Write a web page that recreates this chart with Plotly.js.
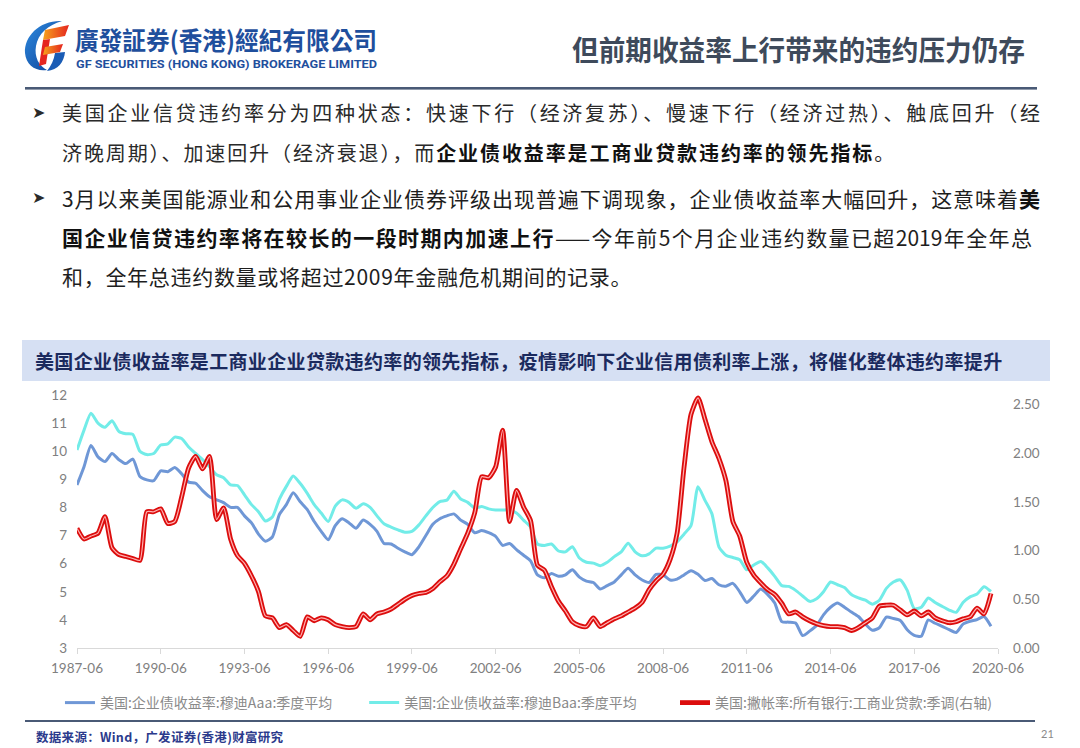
<!DOCTYPE html>
<html>
<head>
<meta charset="utf-8">
<script src="https://cdn.plot.ly/plotly-3.0.1.min.js"></script>
<style>
  html, body { margin:0; padding:0; background:#fff; }
  #page { position:relative; width:1080px; height:748px; overflow:hidden; background:#fff;
          font-family:"Noto Sans CJK SC", "Noto Sans", sans-serif; }
  .abs { position:absolute; white-space:nowrap; }
  .bul { position:absolute; left:32px; font-family:"DejaVu Sans"; font-size:16px; color:#2a2a2a; line-height:22px; }
  .p1 { font-size:20px; color:#2a2a2a; letter-spacing:1.9px; height:30px; line-height:30px; }
  .p2 { font-size:21px; color:#1e1e1e; letter-spacing:0.7px; height:30px; line-height:30px; }
  .just { width:978px; text-align:justify; text-align-last:justify; letter-spacing:0; }
  b { font-weight:700; color:#111; }
  #chartTitle { position:absolute; left:22px; top:340px; width:1028px; height:41px; background:#d6e0f3; }
  #chartTitle span { position:absolute; left:13px; top:0; line-height:41px; font-size:19px; font-weight:700; color:#1b2a5e; white-space:nowrap; letter-spacing:0.35px; }
  #plot { position:absolute; left:0; top:0; width:1080px; height:748px; }
</style>
</head>
<body>
<div id="page">
  <svg class="abs" style="left:0;top:0" width="1080" height="95">
    <defs>
      <linearGradient id="gb" x1="0" y1="0" x2="1" y2="1">
        <stop offset="0" stop-color="#2d8be0"/><stop offset="1" stop-color="#0d3f95"/>
      </linearGradient>
      <linearGradient id="gr" x1="0" y1="0" x2="1" y2="0">
        <stop offset="0" stop-color="#f6a21c"/><stop offset="1" stop-color="#e5261f"/>
      </linearGradient>
    </defs>
    <path d="M62,21 C40,20 24,36 25,53 C26,65 36,72 47,70 C39,66 34,57 36,46 C38,34 48,25 62,21 Z" fill="url(#gb)"/>
    <path d="M47,71 C58,70 64,62 65,52 L55,53 C54,60 51,66 47,71 Z" fill="#1a5cb5"/>
    <path d="M45,30 L69,25 L65,36 L43,40 Z" fill="url(#gr)"/>
    <path d="M43,40 L50,39 L46,64 L39,66 Z" fill="#e5261f"/>
    <path d="M45,47 L63,44 L60,52 L43,55 Z" fill="url(#gr)"/>
    <text x="75" y="50" font-family="Noto Sans CJK TC" font-weight="700" font-size="25" fill="#1f4f9d"
          textLength="302" lengthAdjust="spacingAndGlyphs">廣發証券(香港)經紀有限公司</text>
    <text x="76" y="68" font-family="Roboto" font-weight="700" font-size="11" fill="#1f4f9d"
          textLength="301" lengthAdjust="spacingAndGlyphs">GF SECURITIES (HONG KONG) BROKERAGE LIMITED</text>
    <text x="572" y="61" font-family="Noto Sans CJK SC" font-weight="700" font-size="28" fill="#3e4a5b"
          textLength="453" lengthAdjust="spacingAndGlyphs">但前期收益率上行带来的违约压力仍存</text>
    <rect x="25" y="87" width="1012" height="2.6" fill="#4a5a76"/>
  </svg>

  <div class="bul" style="top:102px">➤</div>
  <div class="abs p1 just" style="left:62px;top:98px">美国企业信贷违约率分为四种状态：快速下行（经济复苏）、慢速下行（经济过热）、触底回升（经</div>
  <div class="abs p1" style="left:62px;top:138px">济晚周期）、加速回升（经济衰退），而<b>企业债收益率是工商业贷款违约率的领先指标</b>。</div>

  <div class="bul" style="top:187px">➤</div>
  <div class="abs p2 just" style="left:62px;top:183px">3月以来美国能源业和公用事业企业债券评级出现普遍下调现象，企业债收益率大幅回升，这意味着<b>美</b></div>
  <div class="abs p2 just" style="left:62px;top:222px;width:970px"><b>国企业信贷违约率将在较长的一段时期内加速上行</b>——今年前5个月企业违约数量已超2019年全年总</div>
  <div class="abs p2" style="left:62px;top:261px">和，全年总违约数量或将超过2009年金融危机期间的记录。</div>

  <div id="chartTitle"><span>美国企业债收益率是工商业企业贷款违约率的领先指标，疫情影响下企业信用债利率上涨，将催化整体违约率提升</span></div>

  <div id="plot"></div>

  <div class="abs" style="left:25px;top:720px;width:1010px;height:2px;background:#4a5a76"></div>
  <div class="abs" style="left:36px;top:727px;font-size:12.5px;color:#2b3a8c;font-weight:700;letter-spacing:0.3px">数据来源：Wind，广发证券(香港)财富研究</div>
  <div class="abs" style="left:1041px;top:727px;font-size:11px;color:#8a8a8a;font-family:'Lato'">21</div>
</div>

<script>
// Quarterly observation dates (1987-06 .. 2020-03)
const quarters = [];
for (let i = 0; i < 132; i++) {
  const m = 6 + 3 * i;
  const y = 1987 + Math.floor((m - 1) / 12);
  const mm = ((m - 1) % 12) + 1;
  quarters.push(y + '-' + String(mm).padStart(2, '0') + '-01');
}

// 美国:企业债收益率:穆迪Aaa:季度平均 (%)
const aaa = [
  8.80, 9.45, 10.20, 9.80, 9.63, 9.92, 9.70, 9.56,
  9.72, 9.10, 8.98, 8.95, 9.30, 9.27, 9.42, 9.20,
  8.90, 8.86, 8.60, 8.38, 8.27, 8.17, 8.00, 8.00,
  7.70, 7.45, 7.05, 6.80, 6.95, 7.75, 8.10, 8.52,
  8.20, 7.92, 7.50, 7.15, 6.85, 7.35, 7.60, 7.45,
  7.26, 7.55, 7.40, 7.15, 6.72, 6.70, 6.55, 6.42,
  6.32, 6.60, 7.00, 7.40, 7.60, 7.70, 7.77, 7.55,
  7.40, 7.10, 7.18, 7.10, 6.97, 6.65, 6.72, 6.50,
  6.30, 6.10, 5.60, 5.50, 5.65, 5.55, 5.60, 5.78,
  5.52, 5.38, 5.33, 5.10, 5.22, 5.35, 5.60, 5.84,
  5.60, 5.42, 5.33, 5.62, 5.60, 5.42, 5.45, 5.60,
  5.75, 5.62, 5.40, 5.47, 5.25, 5.20, 5.30, 5.00,
  4.62, 4.85, 5.10, 4.90, 4.60, 3.94, 3.92, 3.89,
  3.44, 3.60, 3.80, 4.18, 4.45, 4.60, 4.45, 4.28,
  4.12, 3.85, 3.63, 3.72, 4.10, 4.05, 3.98, 3.65,
  3.45, 3.42, 4.00, 3.88, 3.77, 3.65, 3.55, 3.85,
  3.95, 4.01, 4.12, 3.77
];

// 美国:企业债收益率:穆迪Baa:季度平均 (%)
const baa = [
  10.04, 10.75, 11.35, 11.00, 10.85, 11.08, 10.70, 10.62,
  10.60, 10.00, 9.88, 9.92, 10.22, 10.26, 10.50, 10.45,
  10.15, 9.92, 9.70, 9.45, 9.16, 9.06, 8.80, 8.78,
  8.45, 8.10, 7.85, 7.52, 7.66, 8.30, 8.75, 9.12,
  8.85, 8.50, 8.10, 7.80, 7.50, 8.05, 8.27, 8.18,
  7.97, 8.13, 8.00, 7.70, 7.42, 7.30, 7.20, 7.12,
  7.15, 7.38, 7.70, 8.00, 8.21, 8.26, 8.58, 8.30,
  8.18, 7.98, 8.03, 7.95, 7.91, 7.91, 7.91, 7.80,
  7.55, 7.30, 6.70, 6.65, 6.70, 6.45, 6.42, 6.60,
  6.20, 6.05, 6.02, 5.93, 6.05, 6.25, 6.42, 6.73,
  6.42, 6.28, 6.35, 6.55, 6.55, 6.62, 6.78, 7.05,
  7.35, 8.74, 8.25, 7.78, 6.60, 6.30, 6.22, 6.14,
  5.78, 5.95, 6.08, 5.85, 5.55, 5.22, 5.19, 5.05,
  4.85, 4.66, 4.75, 5.00, 5.35, 5.25, 5.15, 4.90,
  4.78, 4.70, 4.56, 4.70, 5.12, 5.35, 5.42, 5.05,
  4.40, 4.45, 4.78, 4.62, 4.48, 4.35, 4.27, 4.62,
  4.82, 4.92, 5.18, 5.01
];

// 美国:撇帐率:所有银行:工商业贷款:季调 (%, 右轴)
const chargeOff = [
  1.23, 1.12, 1.15, 1.18, 1.35, 1.03, 0.96, 0.94,
  0.92, 0.90, 1.40, 1.40, 1.43, 1.28, 1.30, 1.55,
  1.85, 1.97, 1.84, 1.97, 1.32, 1.44, 1.12, 0.95,
  0.87, 0.74, 0.58, 0.33, 0.31, 0.21, 0.24, 0.18,
  0.12, 0.32, 0.28, 0.31, 0.29, 0.24, 0.22, 0.21,
  0.22, 0.35, 0.29, 0.35, 0.37, 0.40, 0.45, 0.50,
  0.54, 0.56, 0.57, 0.61, 0.68, 0.74, 0.86, 1.02,
  1.18, 1.39, 1.76, 1.75, 1.86, 2.24, 1.30, 1.62,
  1.45, 1.31, 0.85, 0.80, 0.63, 0.48, 0.38, 0.27,
  0.23, 0.22, 0.31, 0.22, 0.26, 0.30, 0.33, 0.37,
  0.41, 0.47, 0.60, 0.69, 0.76, 0.91, 1.18, 1.85,
  2.40, 2.57, 2.35, 2.12, 1.95, 1.72, 1.30, 1.15,
  0.88, 0.75, 0.67, 0.60, 0.55, 0.46, 0.35, 0.37,
  0.32, 0.28, 0.25, 0.23, 0.22, 0.22, 0.21, 0.18,
  0.21, 0.26, 0.31, 0.43, 0.44, 0.44, 0.39, 0.34,
  0.38, 0.33, 0.37, 0.31, 0.28, 0.26, 0.27, 0.30,
  0.32, 0.41, 0.35, 0.56
];

const seriesNames = [
  '美国:企业债收益率:穆迪Aaa:季度平均',
  '美国:企业债收益率:穆迪Baa:季度平均',
  '美国:撇帐率:所有银行:工商业贷款:季调(右轴)'
];

const xTickVals = ['1987-06-01','1990-06-01','1993-06-01','1996-06-01','1999-06-01','2002-06-01',
                   '2005-06-01','2008-06-01','2011-06-01','2014-06-01','2017-06-01','2020-06-01'];
const xTickText = ['1987-06','1990-06','1993-06','1996-06','1999-06','2002-06',
                   '2005-06','2008-06','2011-06','2014-06','2017-06','2020-06'];
const leftTicks = [3,4,5,6,7,8,9,10,11,12];
const rightTicks = [0, 0.5, 1.0, 1.5, 2.0, 2.5];

const tickFont = { family: 'Lato, "Open Sans", sans-serif', size: 13.5, color: '#808080' };
const legFont = { family: '"Noto Sans CJK SC", sans-serif', size: 14, color: '#8a8a8a' };

const traces = [
  { x: quarters, y: aaa, name: seriesNames[0], type: 'scatter', mode: 'lines',
    line: { color: '#6f97d6', width: 3, shape: 'spline', smoothing: 0.6 }, legend: 'legend' },
  { x: quarters, y: baa, name: seriesNames[1], type: 'scatter', mode: 'lines',
    line: { color: '#72ece8', width: 3, shape: 'spline', smoothing: 0.6 }, legend: 'legend2' },
  { x: quarters, y: chargeOff, name: seriesNames[2], type: 'scatter', mode: 'lines', yaxis: 'y2',
    line: { color: '#dc0d0d', width: 4.8, shape: 'spline', smoothing: 0.6 }, legend: 'legend3' },
  { x: quarters, y: chargeOff, name: seriesNames[2], type: 'scatter', mode: 'lines', yaxis: 'y2',
    line: { color: '#ffb0b0', width: 1.2, shape: 'spline', smoothing: 0.6 }, showlegend: false, hoverinfo: 'skip' }
];

const layout = {
  width: 1080, height: 748,
  margin: { l: 77, r: 82, t: 395, b: 100 },
  paper_bgcolor: 'rgba(0,0,0,0)', plot_bgcolor: 'rgba(0,0,0,0)',
  showlegend: true,
  xaxis: {
    type: 'date', range: ['1987-06-01', '2020-06-01'],
    tickvals: xTickVals, ticktext: xTickText,
    showgrid: false, zeroline: false,
    showline: true, linecolor: '#d9d9d9', linewidth: 1,
    ticks: 'outside', ticklen: 5, tickcolor: '#d9d9d9',
    tickfont: tickFont, ticklabelstandoff: 3
  },
  yaxis: {
    range: [3, 12], tickvals: leftTicks, showgrid: false, zeroline: false, showline: false,
    ticks: '', tickfont: tickFont, ticklabelstandoff: 9
  },
  yaxis2: {
    range: [0, 2.6], tickvals: rightTicks, tickformat: '.2f', overlaying: 'y', side: 'right',
    showgrid: false, zeroline: false, showline: false, ticks: '', tickfont: tickFont, ticklabelstandoff: 14
  },
  legend:  { x: -0.0185, y: -0.2174, xanchor: 'left', yanchor: 'middle', font: legFont, bgcolor: 'rgba(0,0,0,0)', itemwidth: 30 },
  legend2: { x: 0.3118, y: -0.2174, xanchor: 'left', yanchor: 'middle', font: legFont, bgcolor: 'rgba(0,0,0,0)', itemwidth: 30 },
  legend3: { x: 0.6493, y: -0.2174, xanchor: 'left', yanchor: 'middle', font: legFont, bgcolor: 'rgba(0,0,0,0)', itemwidth: 30 }
};

Plotly.newPlot('plot', traces, layout, { staticPlot: true, displayModeBar: false });
</script>
</body>
</html>
